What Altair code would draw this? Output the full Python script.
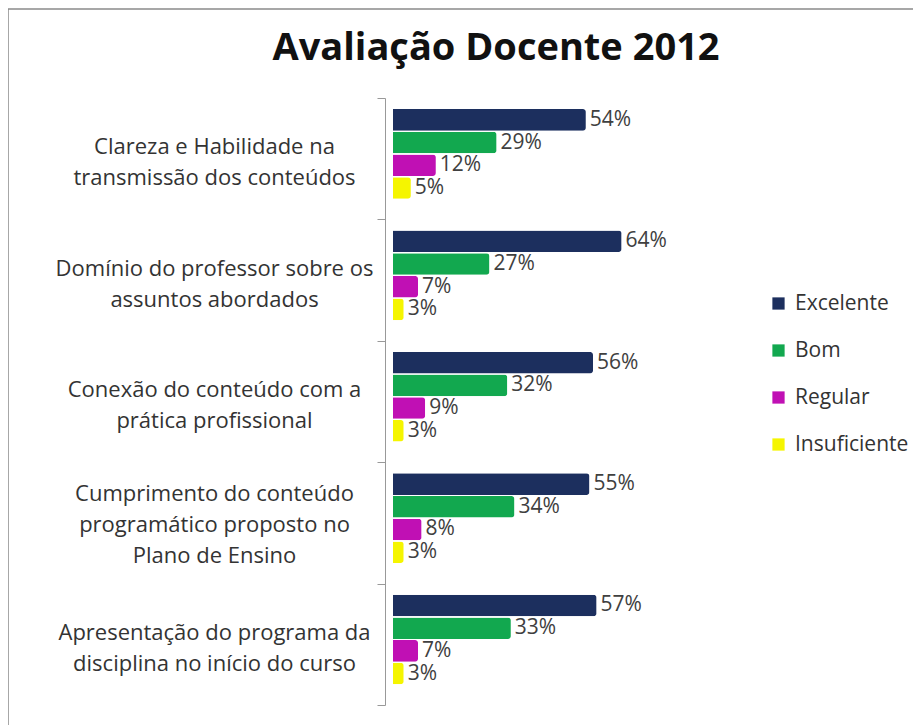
import altair as alt
import pandas as pd

categories = [
    "Clareza e Habilidade na|transmissão dos conteúdos",
    "Domínio do professor sobre os|assuntos abordados",
    "Conexão do conteúdo com a|prática profissional",
    "Cumprimento do conteúdo|programático proposto no|Plano de Ensino",
    "Apresentação do programa da|disciplina no início do curso",
]
series = ["Excelente", "Bom", "Regular", "Insuficiente"]
excelente = [54, 64, 56, 55, 57]
bom = [29, 27, 32, 34, 33]
regular = [12, 7, 9, 8, 7]
insuficiente = [5, 3, 3, 3, 3]
colors = ["#1c2f5e", "#12a84f", "#c010b4", "#f5f500"]

rows = []
for s, vals in zip(series, [excelente, bom, regular, insuficiente]):
    for c, v in zip(categories, vals):
        rows.append({"cat": c, "serie": s, "valor": v / 100, "rotulo": f"{v}%"})
df = pd.DataFrame(rows)

FONT = "Open Sans"

base = alt.Chart(df).encode(
    y=alt.Y(
        "cat:N",
        sort=categories,
        scale=alt.Scale(paddingInner=0, paddingOuter=0),
        axis=alt.Axis(
            title=None,
            labelExpr="split(datum.label, '|')",
            labelAlign="center",
            labelPadding=163,
            labelFontSize=22,
            labelFont=FONT,
            labelColor="#333333",
            labelLineHeight=31,
            labelLimit=400,
            labelOffset={
                "condition": {"test": "length(split(datum.value, '|')) > 2", "value": -29},
                "value": -12,
            },
            domainColor="#999999",
            tickColor="#999999",
            tickBand="extent",
            tickSize=8,
            offset=8,
        ),
    ),
    yOffset=alt.YOffset(
        "serie:N",
        sort=series,
        scale=alt.Scale(paddingInner=0.05, paddingOuter=0.7, align=0.35),
    ),
)

bars = base.mark_bar(cornerRadiusEnd=3).encode(
    x=alt.X("valor:Q", scale=alt.Scale(domain=[0, 0.7]), axis=None),
    color=alt.Color(
        "serie:N",
        sort=series,
        scale=alt.Scale(domain=series, range=colors),
        legend=alt.Legend(
            title=None,
            orient="none",
            legendX=375,
            legendY=195,
            labelFontSize=21,
            labelFont=FONT,
            labelColor="#333333",
            symbolType="square",
            symbolSize=150,
            symbolStrokeWidth=0,
            rowPadding=25,
            labelOffset=6,
        ),
    ),
)

text = base.mark_text(
    align="left", baseline="middle", dx=4, dy=0, fontSize=21, font=FONT, color="#404040"
).encode(x=alt.X("valor:Q"), text="rotulo:N")

border = alt.Chart(pd.DataFrame({"a": [0]})).mark_rect(
    fill="transparent", stroke="#8a8a8a", strokeWidth=1.5
).encode(
    x=alt.value(-385), x2=alt.value(700), y=alt.value(-89), y2=alt.value(800)
)

chart = (
    alt.layer(border, bars, text)
    .properties(
        width=250,
        height=607,
        title=alt.Title(
            "Avaliação Docente 2012",
            fontSize=38,
            font=FONT,
            fontWeight="bold",
            color="#111111",
            anchor="middle",
            frame="group",
            dx=-22,
            dy=60,
            offset=0,
        ),
        autosize=alt.AutoSizeParams(type="none"),
        padding={"left": 385, "top": 90, "right": 270, "bottom": 20},
        background="white",
    )
    .configure_view(strokeWidth=0)
)

chart.save("out.html", embed_options={"renderer": "svg", "actions": False})
